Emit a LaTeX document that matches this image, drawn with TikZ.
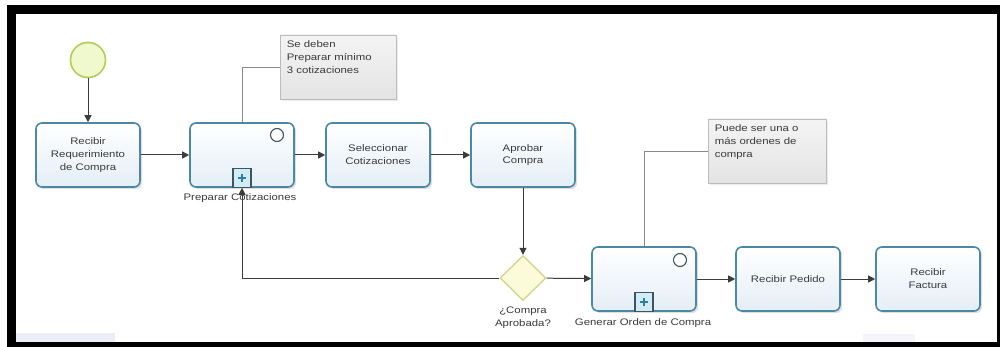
\documentclass[tikz,border=0pt]{standalone}
\usepackage{fontspec}
\setmainfont{Liberation Sans}[FakeStretch=1.2]
\usetikzlibrary{arrows.meta,shadows,shapes.geometric}
\definecolor{taskborder}{HTML}{4A88A4}
\definecolor{taskfill}{HTML}{E4EEF6}
\definecolor{txt}{HTML}{3A3A3A}
\definecolor{flowcol}{HTML}{3C3C3C}
\definecolor{gwborder}{HTML}{D6D68E}
\definecolor{gwfill}{HTML}{FBFBDA}
\definecolor{stborder}{HTML}{B2CC56}
\definecolor{stfill}{HTML}{F0F8CE}
\definecolor{annborder}{HTML}{BCBCBC}
\definecolor{anntop}{HTML}{F4F4F4}
\definecolor{annbot}{HTML}{E4E4E4}
\definecolor{annline}{HTML}{8A8A8A}
\definecolor{plusfill}{HTML}{D2ECF6}
\definecolor{pluscol}{HTML}{2E7F9E}
\definecolor{markcol}{HTML}{3E5560}
\definecolor{edgeband}{HTML}{EBEEF7}
\tikzset{
  task/.style={rectangle, rounded corners=6pt, draw=taskborder, line width=1.6pt,
    top color=white, bottom color=taskfill,
    drop shadow={opacity=0.25, shadow xshift=2pt, shadow yshift=-2pt},
    minimum width=104pt, minimum height=64pt, inner sep=0pt, align=center, text=txt},
  gateway/.style={diamond, draw=gwborder, line width=1.4pt, fill=gwfill,
    minimum width=46pt, minimum height=45pt, inner sep=0pt},
  startev/.style={circle, draw=stborder, line width=1.6pt, fill=stfill,
    minimum size=35pt, inner sep=0pt},
  circmark/.style={circle, draw=markcol, line width=1.1pt, fill=white, minimum size=13pt, inner sep=0pt},
  plusmark/.style={rectangle, draw=markcol, line width=1.1pt, fill=plusfill,
    minimum width=18pt, minimum height=19pt, inner sep=0pt,
    path picture={\draw[pluscol, line width=1.6pt]
      ([xshift=-4pt]path picture bounding box.center) -- ([xshift=4pt]path picture bounding box.center)
      ([yshift=-4pt]path picture bounding box.center) -- ([yshift=4pt]path picture bounding box.center);}},
  flow/.style={draw=flowcol, line width=1pt, -{Triangle[length=7pt,width=7pt]}},
  annbox/.style={rectangle, draw=annborder, line width=0.8pt, top color=anntop, bottom color=annbot,
    drop shadow={opacity=0.15, shadow xshift=2pt, shadow yshift=-2pt}, inner sep=0pt},
  anntext/.style={align=left, text=txt, inner sep=0pt},
  annlink/.style={draw=annline, line width=0.8pt},
  lbl/.style={text=txt, inner sep=0pt, align=center},
}
\begin{document}
\begin{tikzpicture}[x=1pt, y=-1pt, font=\fontsize{9.5}{12.8}\selectfont]
\useasboundingbox (0,0) rectangle (1000,347);
% frame
\fill[black] (7,5) rectangle (1000,347);
\fill[white] (16,14) rectangle (997,342);
\fill[edgeband] (16,333) rectangle (115,342);
\fill[edgeband!60!white] (863,334) rectangle (915,342);

% start event
\node[startev] (start) at (88,60) {};

% tasks row 1
\node[task] (recreq) at (88,155) {Recibir\\Requerimiento\\de Compra};
\node[task] (prep) at (242,155) {};
\node[circmark] (prepc) at (277,135) {};
\node[plusmark, anchor=south] (prepp) at (prep.south) {};
\node[lbl] (preplbl) at (240,198) {Preparar Cotizaciones};
\node[task] (selec) at (378,155) {Seleccionar\\Cotizaciones};
\node[task] (aprob) at (523,155) {Aprobar\\Compra};

% row 2
\node[gateway] (gw) at (523,278) {};
\node[lbl] (gwlbl) at (523,318) {¿Compra\\Aprobada?};
\node[task] (gen) at (644,279) {};
\node[circmark] (genc) at (680,260) {};
\node[plusmark, anchor=south] (genp) at (gen.south) {};
\node[lbl] (genlbl) at (643,323) {Generar Orden de Compra};
\node[task] (ped) at (788,279) {Recibir Pedido};
\node[task] (fac) at (928,279) {Recibir\\Factura};

% annotations
\node[annbox, minimum width=116pt, minimum height=64pt] (ann1) at (338,67) {};
\node[anntext, anchor=north west] (ann1t) at ([xshift=7pt, yshift=-6pt]ann1.north west) {Se deben\\Preparar mínimo\\3 cotizaciones};
\node[annbox, minimum width=118pt, minimum height=64pt] (ann2) at (767,151) {};
\node[anntext, anchor=north west] (ann2t) at ([xshift=7pt, yshift=-6pt]ann2.north west) {Puede ser una o\\más ordenes de\\compra};

\draw[annlink] (ann1.west) -| (prep.north);
\draw[annlink] (ann2.west) -| (gen.north);

% flows
\draw[flow] (start) -- (recreq);
\draw[flow] (recreq) -- (prep);
\draw[flow] (prep) -- (selec);
\draw[flow] (selec) -- (aprob);
\draw[flow] (aprob) -- (gw);
\draw[flow] (gw) -- (gen);
\draw[flow] (gen) -- (ped);
\draw[flow] (ped) -- (fac);
\draw[flow] (gw.west) -| (prepp.south);
\end{tikzpicture}
\end{document}
